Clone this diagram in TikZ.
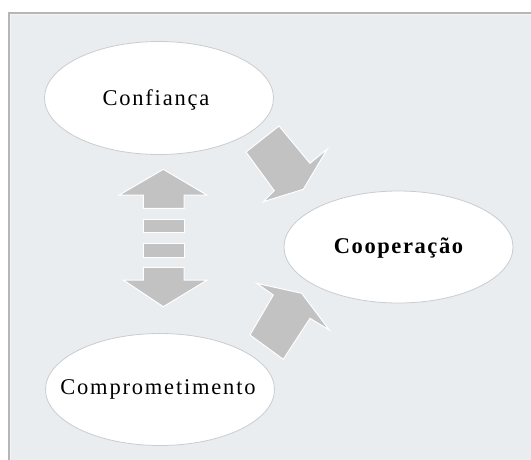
\documentclass[tikz,border=0pt]{standalone}
\usepackage{fontspec}
\setmainfont{Liberation Serif}
\usetikzlibrary{shapes.geometric}
\definecolor{panel}{HTML}{E9EDF0}
\definecolor{frameline}{HTML}{B4B6B8}
\definecolor{blockgray}{HTML}{C2C2C2}
\definecolor{rimgray}{HTML}{C9CDD0}
\tikzset{
  concept/.style={ellipse, draw=rimgray, line width=0.8pt, fill=white,
    inner sep=0pt, minimum width=229pt, minimum height=113pt},
  conceptlabel/.style={inner sep=0pt, text=black,
    font=\fontsize{22.5}{26}\selectfont\addfontfeatures{LetterSpace=8}},
  blockarrow/.style={fill=blockgray, draw=white, line width=1pt, line join=miter}
}
\begin{document}
\begin{tikzpicture}[x=1pt, y=-1pt]
  \useasboundingbox (0,0) rectangle (531,459);
  % panel with its grey rim
  \begin{scope}
    \clip (0,0) rectangle (531,459);
    \fill[panel] (8,12) rectangle (545,475);
    \draw[frameline, line width=1.6pt] (8.8,475) -- (8.8,12.8) -- (545,12.8);
    \draw[white!85!frameline, line width=0.8pt] (10.4,475) -- (10.4,14.4) -- (545,14.4);
  \end{scope}

  % the three concepts
  \node[concept] (conf) at (159,98) {};
  \node[conceptlabel, xshift=-3pt, yshift=-2pt] (conftext) at (conf.center) {Confiança};
  \node[concept, minimum height=112pt] (coop) at (398.5,247) {};
  \node[conceptlabel, yshift=-1pt,
        font=\fontsize{22.5}{26}\selectfont\bfseries\addfontfeatures{LetterSpace=7}]
        (cooptext) at (coop.center) {Cooperação};
  \node[concept, minimum height=112pt] (comp) at (160,389.5) {};
  \node[conceptlabel, xshift=-2pt] (comptext) at (comp.center) {Comprometimento};

  % two-way dashed block arrow between Confiança and Comprometimento
  \fill[blockgray] (143.3,208.3) rectangle (184,195);
  \draw[blockarrow] (119.3,195) -- (163.3,169.3) -- (206.7,195) -- (184,195)
    -- (184,208.3) -- (143.3,208.3) -- (143.3,195) -- cycle;
  \draw[blockarrow] (143.3,219.3) rectangle (184,232.7);
  \draw[blockarrow] (143.3,243.3) rectangle (184,257.7);
  \draw[blockarrow] (143.3,267.3) -- (184,267.3) -- (184,280) -- (207.3,280)
    -- (163.3,306.7) -- (123.3,280) -- (143.3,280) -- cycle;

  % block arrow from Confiança to Cooperação
  \draw[blockarrow] (279,126) -- (246,152) -- (274.3,190.7) -- (263.3,201.7)
    -- (303.3,189.3) -- (327.3,149) -- (310,163.3) -- cycle;

  % block arrow from Comprometimento to Cooperação
  \draw[blockarrow] (256.7,283.3) -- (273.3,295) -- (250,335) -- (283.3,359.3)
    -- (310,318.3) -- (329.3,330) -- (301.7,293.3) -- cycle;
\end{tikzpicture}
\end{document}
